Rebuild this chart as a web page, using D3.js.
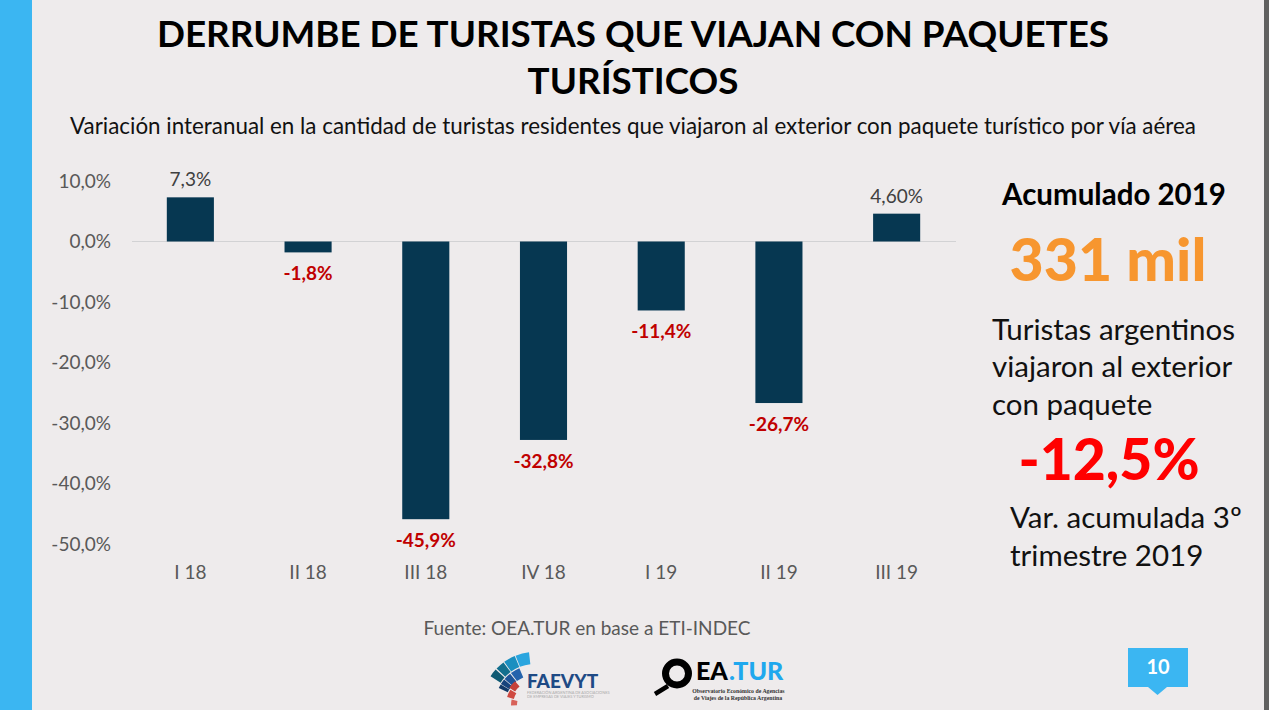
<!DOCTYPE html>
<html><head><meta charset="utf-8">
<script src="https://cdn.jsdelivr.net/npm/d3@7"></script>
<style>html,body{margin:0;padding:0;background:#eeebec;overflow:hidden}svg{display:block}text{font-family:Lato,"Open Sans",sans-serif}</style>
</head><body><svg id="c" width="1269" height="710"></svg>
<script>
const categories=["I 18","II 18","III 18","IV 18","I 19","II 19","III 19"];
const values=[7.3,-1.8,-45.9,-32.8,-11.4,-26.7,4.6];
const valueLabels=["7,3%","-1,8%","-45,9%","-32,8%","-11,4%","-26,7%","4,60%"];
const yTicks=[10,0,-10,-20,-30,-40,-50];
const titleLines=["DERRUMBE DE TURISTAS QUE VIAJAN CON PAQUETES","TURÍSTICOS"];
const subtitle="Variación interanual en la cantidad de turistas residentes que viajaron al exterior con paquete turístico por vía aérea";

const svg=d3.select("#c");
svg.append("rect").attr("width",1269).attr("height",710).attr("fill","#eeebec");
svg.append("rect").attr("width",32).attr("height",710).attr("fill","#3bb6f2");
svg.append("rect").attr("x",1264).attr("width",5).attr("height",710).attr("fill","#606060");

const T=(x,y,s,size,fill,weight,anchor)=>svg.append("text").attr("x",x).attr("y",y).text(s)
  .attr("font-size",size).attr("fill",fill).attr("font-weight",weight||400).attr("text-anchor",anchor||"start");

T(633,47,titleLines[0],36.8,"#000",700,"middle");
T(633,94,titleLines[1],36.8,"#000",700,"middle");
T(633,134,subtitle,22.4,"#111",400,"middle");

const y=d3.scaleLinear().domain([10,-50]).range([181,544]);
const x=d3.scaleBand().domain(categories).range([132,956]).paddingInner(0.6).paddingOuter(0.3);

const yAxis=d3.axisLeft(y).tickValues(yTicks).tickSize(0).tickPadding(0).tickFormat(d=>d3.format(".1f")(d).replace(".",",").replace("−","-")+"%");
const gy=svg.append("g").attr("transform","translate(111,0)").call(yAxis);
gy.select(".domain").remove();
gy.selectAll("text").attr("font-size",19).attr("fill","#595959").attr("style","font-family:Lato,sans-serif");

const xAxis=d3.axisBottom(x).tickSize(0).tickPadding(0);
const gx=svg.append("g").attr("transform","translate(-0.5,565)").call(xAxis);
gx.select(".domain").remove();
gx.selectAll("text").attr("font-size",19).attr("fill","#595959").attr("style","font-family:Lato,sans-serif");

svg.append("line").attr("x1",132).attr("x2",956).attr("y1",y(0)).attr("y2",y(0)).attr("stroke","#d2d2d4").attr("stroke-width",1);

svg.selectAll("rect.bar").data(values).join("rect").attr("class","bar")
  .attr("x",(d,i)=>x(categories[i])-0.5).attr("width",x.bandwidth())
  .attr("y",d=>y(Math.max(d,0))).attr("height",d=>Math.abs(y(d)-y(0)))
  .attr("fill","#063751");

svg.selectAll("text.lab").data(values).join("text").attr("class","lab")
  .attr("x",(d,i)=>x(categories[i])+x.bandwidth()/2-0.5)
  .attr("y",d=>d>=0?y(d)-11:y(d)+28)
  .attr("text-anchor","middle").attr("font-size",19)
  .attr("font-weight",d=>d>=0?400:700).attr("fill",d=>d>=0?"#404040":"#c00000")
  .text((d,i)=>valueLabels[i]);

T(1114,205,"Acumulado 2019",29.5,"#000",700,"middle");
T(1108,281,"331 mil",59,"#f7962f",900,"middle");
T(992,340,"Turistas argentinos",29.5,"#111");
T(992,377,"viajaron al exterior",29.5,"#111");
T(992,415,"con paquete",29.5,"#111");
T(1109,480,"-12,5%",57,"#ff0000",900,"middle");
T(1010,528,"Var. acumulada 3º",29.5,"#111");
T(1010,566,"trimestre 2019",29.5,"#111");
T(587,635,"Fuente: OEA.TUR en base a ETI-INDEC",19,"#595959",400,"middle");

// page-number tab
svg.append("path").attr("d","M1128 648H1188V687H1167L1157.5 695L1148 687H1128Z").attr("fill","#3bb6f2");
T(1158,674,"10",20,"#fff",700,"middle");

// FAEVYT logo: [mid angle deg, angular width deg, inner radius, outer radius, colour]
const logoCells=[
 [-14,15,41,53,"#2aa5df"],[-29,13,41,53,"#1a8fc0"],[-41.5,10,41,53,"#136f8e"],[-52.5,9,41,53,"#0f5a73"],
 [-30,14,30,40,"#2563ac"],[-44,11,30,40,"#1e5498"],[-54.5,8,30,40,"#17447c"],[-62,6,30,40,"#123a68"],
 [-48,16,24,31,"#c5413a"],[-66,16,22,29,"#cf4a42"],[-84,14,18,24,"#d8625a"]];
const arc=d3.arc();
const rad=Math.PI/180;
const logo=svg.append("g").attr("transform","translate(535,705)");
logoCells.forEach(([m,w,r0,r1,c])=>logo.append("path").attr("fill",c)
  .attr("d",arc({innerRadius:r0,outerRadius:r1,startAngle:(m-w/2)*rad,endAngle:(m+w/2)*rad})));
T(527,688,"FAEVYT",19,"#1e4a85",900);
T(527,693.5,"FEDERACIÓN ARGENTINA DE ASOCIACIONES",3.9,"#aaa");
T(527,698,"DE EMPRESAS DE VIAJES Y TURISMO",3.9,"#aaa");

// OEA.TUR logo
svg.append("circle").attr("cx",677).attr("cy",673.5).attr("r",11.5).attr("fill","none").attr("stroke","#000").attr("stroke-width",7);
svg.append("line").attr("x1",668).attr("y1",686).attr("x2",655).attr("y2",694).attr("stroke","#000").attr("stroke-width",4.5);
T(696,680,"EA",25,"#000",900);
T(729,680,".TUR",25,"#1fa8ee",900);
T(738.5,693,"Observatorio Económico de Agencias",5.8,"#333",700,"middle").style("font-family","'Liberation Serif',serif");
T(738,700,"de Viajes de la República Argentina",5.8,"#333",700,"middle").style("font-family","'Liberation Serif',serif");
</script></body></html>
